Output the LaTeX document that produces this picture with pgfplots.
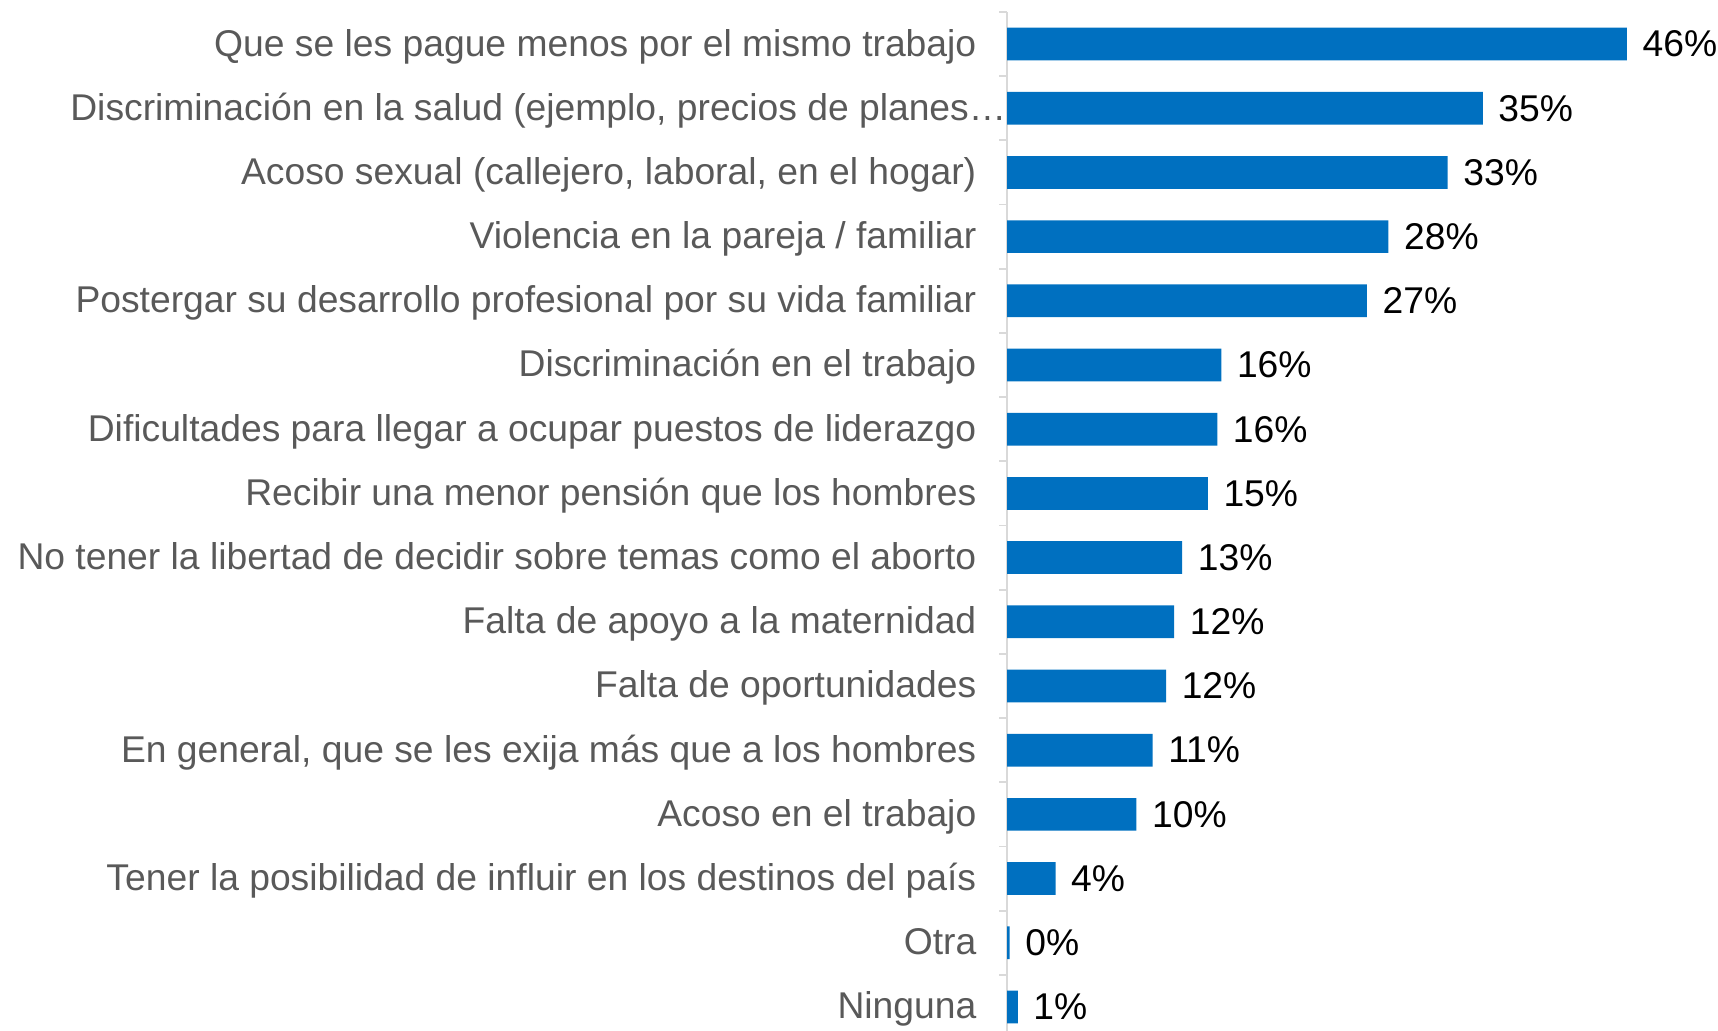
\documentclass[border=0pt]{standalone}
\usepackage{pgfplots}
\pgfplotsset{compat=1.18}
\usepackage{fontspec}
\setmainfont{Liberation Sans}
\definecolor{barblue}{RGB}{0,112,192}
\definecolor{labgray}{RGB}{89,89,89}
\definecolor{axgray}{RGB}{217,217,217}

\begin{document}
\begin{tikzpicture}
\begin{axis}[
    at={(10.07cm,0cm)}, anchor=south west,
    scale only axis,
    width=6.20cm, height=10.19cm,
    xmin=0, xmax=46,
    ymin=-0.375, ymax=15.5,
    xbar, bar width=0.327cm,
    axis x line=none,
    axis y line*=left,
    y axis line style={color=axgray, line width=0.5pt},
    ytick={0,...,15},
    yticklabels={Ninguna, Otra, Tener la posibilidad de influir en los destinos del país,
        Acoso en el trabajo, {En general, que se les exija más que a los hombres},
        Falta de oportunidades, Falta de apoyo a la maternidad,
        No tener la libertad de decidir sobre temas como el aborto,
        Recibir una menor pensión que los hombres,
        Dificultades para llegar a ocupar puestos de liderazgo,
        Discriminación en el trabajo,
        Postergar su desarrollo profesional por su vida familiar,
        Violencia en la pareja / familiar,
        {Acoso sexual (callejero, laboral, en el hogar)},
        {Discriminación en la salud (ejemplo, precios de planes…\hspace*{-0.30cm}},
        Que se les pague menos por el mismo trabajo},
    minor ytick={0.5,1.5,...,15.5},
    tick align=outside,
    major tick length=0pt,
    minor tick length=0.08cm,
    minor tick style={color=axgray, line width=0.5pt},
    yticklabel style={anchor=east, inner sep=0pt, xshift=-0.30cm, yshift=-0.03cm,
        text height=0.72em, text depth=0.21em,
        font=\fontsize{10.6}{12}\selectfont, text=labgray},
    point meta=explicit symbolic,
    nodes near coords,
    nodes near coords align={horizontal},
    every node near coord/.append style={anchor=west, inner sep=0pt, xshift=0.15cm,
        font=\fontsize{10.6}{12}\selectfont, text=black},
    clip=false,
]
\addplot[fill=barblue, draw=none] coordinates {
    (46.0,15) [46\%]
    (35.3,14) [35\%]
    (32.7,13) [33\%]
    (28.3,12) [28\%]
    (26.7,11) [27\%]
    (15.9,10) [16\%]
    (15.6,9)  [16\%]
    (14.9,8)  [15\%]
    (13.0,7)  [13\%]
    (12.4,6)  [12\%]
    (11.8,5)  [12\%]
    (10.8,4)  [11\%]
    (9.6,3)   [10\%]
    (3.6,2)   [4\%]
    (0.2,1)   [0\%]
    (0.8,0)   [1\%]
};
\end{axis}
\pgfresetboundingbox
\path (0,0) rectangle (17.18cm,10.31cm);
\end{tikzpicture}
\end{document}
